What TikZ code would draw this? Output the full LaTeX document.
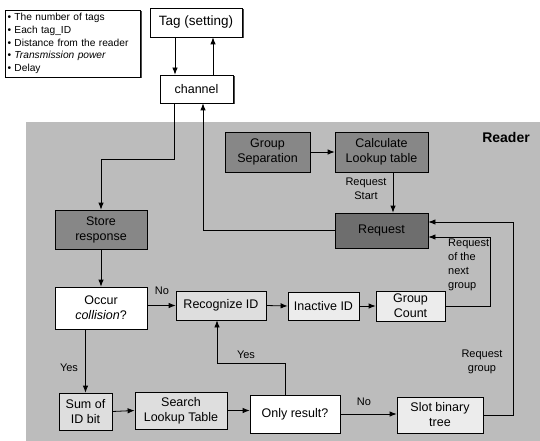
\documentclass[tikz,border=0pt]{standalone}
\usepackage{fontspec}
\setmainfont{Liberation Sans}
\usetikzlibrary{arrows.meta,shadows}
\definecolor{bgray}{RGB}{188,188,188}
\definecolor{dgray}{RGB}{135,135,135}
\definecolor{ddgray}{RGB}{110,110,110}
\definecolor{lgray}{RGB}{222,222,222}
\definecolor{vlgray}{RGB}{236,236,236}
\begin{document}
\begin{tikzpicture}[x=1pt,y=-1pt,
  box/.style={draw=black,line width=0.8pt,rectangle,inner sep=1pt,align=center,
    font=\fontsize{12.5}{15}\selectfont},
  shad/.style={drop shadow={shadow xshift=1.5pt,shadow yshift=-1.5pt,opacity=1,fill=black!70}},
  arr/.style={draw=black,line width=0.8pt,-{Latex[length=7pt,width=5.5pt]}},
  lbl/.style={font=\fontsize{11}{14}\selectfont,inner sep=0pt}]
\useasboundingbox (0,0) rectangle (540,441);
\fill[white] (0,0) rectangle (540,441);
% reader background
\fill[bgray] (26,122) rectangle (540,441);
\node[font=\bfseries\fontsize{14}{16}\selectfont,inner sep=0pt] (reader) at (506,137) {Reader};
% legend
\node[draw=black,line width=0.7pt,shad,fill=white,minimum width=135pt,minimum height=67pt,
  inner sep=2.5pt,align=left,anchor=center,font=\fontsize{10.2}{12.6}\selectfont,text width=130pt] (legend) at (72.5,43.5)
  {• The number of tags\\ • Each tag\_ID\\ • Distance from the reader\\ • \textit{Transmission power}\\ • Delay};
% top nodes
\node[box,shad,fill=white,minimum width=92pt,minimum height=29pt,font=\fontsize{13.5}{16}\selectfont] (tag) at (196,22.5) {Tag (setting)};
\node[box,shad,fill=white,minimum width=73pt,minimum height=28pt] (channel) at (196.5,89) {channel};
% reader nodes
\node[box,fill=dgray,minimum width=85pt,minimum height=40pt] (gs) at (267.5,152) {Group\\Separation};
\node[box,fill=dgray,minimum width=93pt,minimum height=40pt] (clt) at (381.5,152) {Calculate\\Lookup table};
\node[box,fill=ddgray,minimum width=93pt,minimum height=35pt] (req) at (381.5,230.5) {Request};
\node[box,fill=dgray,minimum width=92pt,minimum height=39pt] (store) at (101,229.5) {Store\\response};
\node[box,fill=white,minimum width=92pt,minimum height=42pt] (occur) at (101,308) {Occur\\\textit{collision}?};
\node[box,fill=lgray,minimum width=90pt,minimum height=29pt] (rec) at (221,305.5) {Recognize ID};
\node[box,fill=vlgray,minimum width=71pt,minimum height=28pt] (inact) at (323.5,306) {Inactive ID};
\node[box,fill=vlgray,minimum width=69pt,minimum height=30pt] (gc) at (410.5,306) {Group\\Count};
\node[box,fill=lgray,minimum width=53pt,minimum height=37pt] (sum) at (85.5,411.5) {Sum of\\ID bit};
\node[box,fill=lgray,minimum width=92pt,minimum height=37pt] (slt) at (181,410.5) {Search\\Lookup Table};
\node[box,fill=white,minimum width=90pt,minimum height=38pt] (only) at (295,414) {Only result?};
\node[box,fill=vlgray,minimum width=86pt,minimum height=36pt] (sbt) at (440,415) {Slot binary\\tree};
% helper coordinates
\coordinate (x175) at (175,0);
\coordinate (x213) at (213,0);
\coordinate (x203) at (203,0);
\coordinate (x393) at (393,0);
\coordinate (b1) at (174,159);
\coordinate (r1) at (490,237);
\coordinate (r2) at (513,222);
\coordinate (y1) at (285,363);
\coordinate (y2) at (217,363);
% connectors
\draw[arr] (tag.south -| x175) -- (channel.north -| x175);
\draw[arr] (channel.north -| x213) -- (tag.south -| x213);
\draw[arr] (req.west) -| (x203 |- channel.south);
\draw[arr] (channel.south -| b1) -- (b1) -| (store.north);
\draw[arr] (store.south) -- (occur.north);
\draw[arr] (gs.east) -- (clt.west);
\draw[arr] (clt.south -| x393) -- (req.north -| x393);
\draw[arr] (occur.east |- rec.west) -- (rec.west);
\draw[arr] (rec.east) -- (inact.west);
\draw[arr] (inact.east) -- (gc.west);
\draw[arr] (gc.east) -| (r1) -- (req.east |- r1);
\draw[arr] (sbt.east) -| (r2) -- (req.east |- r2);
\draw[arr] (occur.south -| sum.north) -- (sum.north);
\draw[arr] (sum.east) -- (slt.west);
\draw[arr] (slt.east) -- (slt.east -| only.west);
\draw[arr] (only.north -| y1) -- (y1) -- (y2) -- (rec.south -| y2);
\draw[arr] (only.east) -- (only.east -| sbt.west);
% labels
\node[lbl,align=center] (lrs) at (366,189) {Request\\Start};
\node[lbl,align=left,anchor=north west] (lrn) at (448,239) {Request\\of the\\next\\group};
\node[lbl,align=center] (lrg) at (482,362) {Request\\group};
\node[lbl] (lno1) at (162,291) {No};
\node[lbl] (lyes1) at (69,368) {Yes};
\node[lbl] (lyes2) at (246,355) {Yes};
\node[lbl] (lno2) at (364,402) {No};
\end{tikzpicture}
\end{document}
